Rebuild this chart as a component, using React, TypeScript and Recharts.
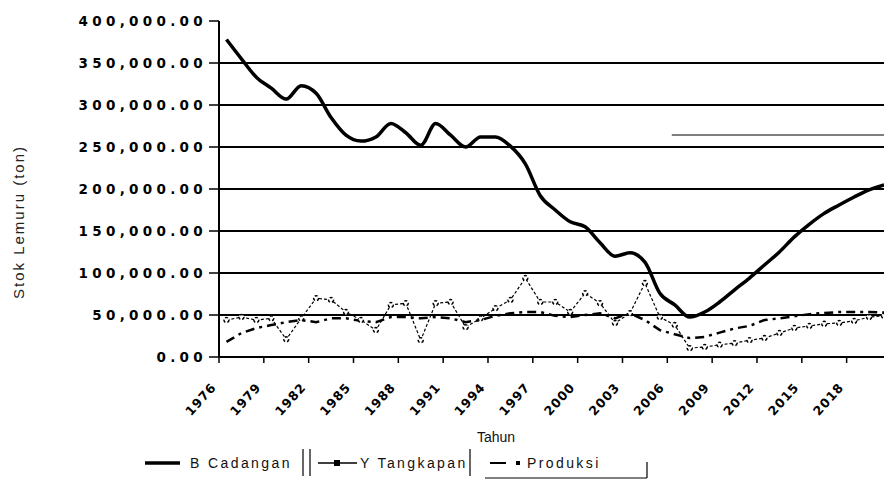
import React from 'react';
import { LineChart, Line, XAxis, YAxis, ReferenceLine } from 'recharts';

const years = [
  1976, 1977, 1978, 1979, 1980, 1981, 1982, 1983, 1984, 1985,
  1986, 1987, 1988, 1989, 1990, 1991, 1992, 1993, 1994, 1995,
  1996, 1997, 1998, 1999, 2000, 2001, 2002, 2003, 2004, 2005,
  2006, 2007, 2008, 2009, 2010, 2011, 2012, 2013, 2014, 2015,
  2016, 2017, 2018, 2019, 2020,
];

const bCadangan = [
  378000, 355000, 333000, 320000, 307000, 323000, 314000, 285000, 264000, 257000,
  262000, 278000, 267000, 252000, 278000, 264000, 250000, 262000, 262000, 251000,
  230000, 192000, 175000, 161000, 155000, 136000, 120000, 124000, 113000, 76000,
  62000, 47500, 53500, 65500, 80000, 94000, 109500, 125000, 143000, 158000,
  171000, 181000, 190500, 199000, 205000,
];

const yTangkapan = [
  44000, 47500, 44000, 46000, 21000, 46000, 70000, 68000, 53500, 44000,
  32000, 62000, 64000, 20000, 64000, 65500, 35500, 46000, 58000, 68000,
  94000, 65500, 65500, 53500, 76000, 64000, 40500, 52000, 88000, 47500,
  38000, 10500, 12000, 14500, 16500, 20000, 22500, 28500, 34500, 37000,
  39500, 40500, 43000, 47500, 49000,
];

const produksi = [
  18000, 28500, 34500, 38000, 41500, 44000, 41500, 46000, 46000, 43000,
  41500, 47500, 47500, 46000, 47500, 46000, 41500, 44000, 49000, 52000,
  53500, 53500, 49000, 47500, 50000, 52000, 46000, 52000, 44000, 32000,
  27000, 22500, 24000, 29000, 34000, 37000, 44000, 46000, 48500, 51000,
  52500, 53500, 53500, 53500, 53000,
];

const xTickLabels = [
  '1976', '1979', '1982', '1985', '1988', '1991', '1994', '1997',
  '2000', '2003', '2006', '2009', '2012', '2015', '2018',
];
const yTicks = [0, 50000, 100000, 150000, 200000, 250000, 300000, 350000, 400000];
const gridValues = [50000, 100000, 150000, 200000, 250000, 300000, 350000];
const strayLineValue = 264300;
const strayLineFrom = 29.8;

const data = years.map((yr, i) => ({
  idx: i,
  year: yr,
  b: bCadangan[i],
  y: yTangkapan[i],
  p: produksi[i],
}));

const xTickPositions = xTickLabels.map((_, k) => k * 3 - 0.5);

const fmt = (v: number) =>
  v.toLocaleString('en-US', { minimumFractionDigits: 2, maximumFractionDigits: 2 });

const YTick = (props: any) => {
  const { x, y, payload } = props;
  return (
    <text
      x={x + 1}
      y={y}
      dy={5}
      textAnchor="end"
      fontFamily="DejaVu Sans"
      fontWeight="bold"
      fontSize={13.5}
      letterSpacing={4.3}
      fill="#000"
    >
      {fmt(payload.value)}
    </text>
  );
};

const XTick = (props: any) => {
  const { x, y, payload } = props;
  const k = Math.round((payload.value + 0.5) / 3);
  const label = xTickLabels[k] ?? '';
  return (
    <g transform={`translate(${x - 5},${y + 20})`}>
      <text
        x={0}
        y={0}
        dy={4}
        textAnchor="end"
        transform="rotate(-48)"
        fontFamily="DejaVu Sans"
        fontWeight="bold"
        fontSize={12.5}
        letterSpacing={1}
        fill="#000"
      >
        {label}
      </text>
    </g>
  );
};

const legendFont = {
  fontFamily: 'Liberation Sans, Arial, sans-serif',
  fontSize: 14,
  letterSpacing: 2.4,
  fill: '#111',
};

export default function App() {
  return (
    <div
      style={{
        position: 'absolute',
        left: 0,
        top: 0,
        width: 884,
        height: 488,
        overflow: 'hidden',
        background: '#fff',
      }}
    >
      <LineChart
        width={884}
        height={488}
        data={data}
        margin={{ top: 21, right: 0, bottom: 0, left: 0 }}
      >
        <XAxis
          dataKey="idx"
          type="number"
          domain={[-0.5, 44]}
          ticks={xTickPositions}
          interval={0}
          height={131}
          tickSize={6}
          tickMargin={2}
          tick={<XTick />}
          axisLine={{ stroke: '#000', strokeWidth: 2 }}
          tickLine={{ stroke: '#000', strokeWidth: 1.5 }}
          label={() => (
            <text
              x={496}
              y={442}
              textAnchor="middle"
              fontFamily="Liberation Sans, Arial, sans-serif"
              fontSize={14}
              fill="#111"
            >
              Tahun
            </text>
          )}
        />
        <YAxis
          type="number"
          domain={[0, 400000]}
          ticks={yTicks}
          interval={0}
          width={219}
          tickSize={10}
          tickMargin={3}
          tick={<YTick />}
          axisLine={{ stroke: '#000', strokeWidth: 2 }}
          tickLine={{ stroke: '#000', strokeWidth: 1.5 }}
          label={() => (
            <text
              x={24}
              y={222}
              textAnchor="middle"
              transform="rotate(-90 24 222)"
              fontFamily="Liberation Sans, Arial, sans-serif"
              fontSize={15}
              letterSpacing={2}
              fill="#222"
            >
              Stok Lemuru (ton)
            </text>
          )}
        />
        {gridValues.map((v) => (
          <ReferenceLine key={v} y={v} stroke="#000" strokeWidth={2} />
        ))}
        <ReferenceLine
          segment={[
            { x: strayLineFrom, y: strayLineValue },
            { x: 44, y: strayLineValue },
          ]}
          stroke="#000"
          strokeWidth={1.2}
        />
        <Line
          dataKey="p"
          type="linear"
          stroke="#000"
          strokeWidth={2.5}
          strokeDasharray="9 5 3 5"
          dot={false}
          isAnimationActive={false}
        />
        <Line
          dataKey="y"
          type="linear"
          stroke="#000"
          strokeWidth={1.2}
          strokeDasharray="3 2"
          dot={{ r: 2.5, fill: '#fff', stroke: '#000', strokeWidth: 1.5 }}
          isAnimationActive={false}
        />
        <Line
          dataKey="b"
          type="monotone"
          stroke="#000"
          strokeWidth={3.5}
          dot={false}
          isAnimationActive={false}
        />
      </LineChart>
      <svg
        width={884}
        height={488}
        style={{ position: 'absolute', left: 0, top: 0, pointerEvents: 'none' }}
      >
        <line x1={145} y1={463} x2={180} y2={463} stroke="#000" strokeWidth={3.5} />
        <text x={190} y={468} {...legendFont}>B Cadangan</text>
        <line x1={303} y1={449} x2={303} y2={476} stroke="#000" strokeWidth={1.2} />
        <line x1={310} y1={449} x2={310} y2={476} stroke="#000" strokeWidth={1.2} />
        <line x1={318} y1={463} x2={357} y2={463} stroke="#000" strokeWidth={1.5} />
        <rect x={334} y={460} width={6} height={6} fill="#000" />
        <text x={360} y={468} {...legendFont}>Y Tangkapan</text>
        <line x1={470} y1={449} x2={470} y2={476} stroke="#000" strokeWidth={1.2} />
        <line x1={490} y1={463} x2={506} y2={463} stroke="#000" strokeWidth={2} />
        <rect x={516} y={461} width={4} height={4} fill="#000" />
        <text x={527} y={468} {...legendFont}>Produksi</text>
        <line x1={485} y1={478} x2={647} y2={478} stroke="#000" strokeWidth={1} />
        <line x1={647} y1={462} x2={647} y2={478} stroke="#000" strokeWidth={1.2} />
      </svg>
    </div>
  );
}
